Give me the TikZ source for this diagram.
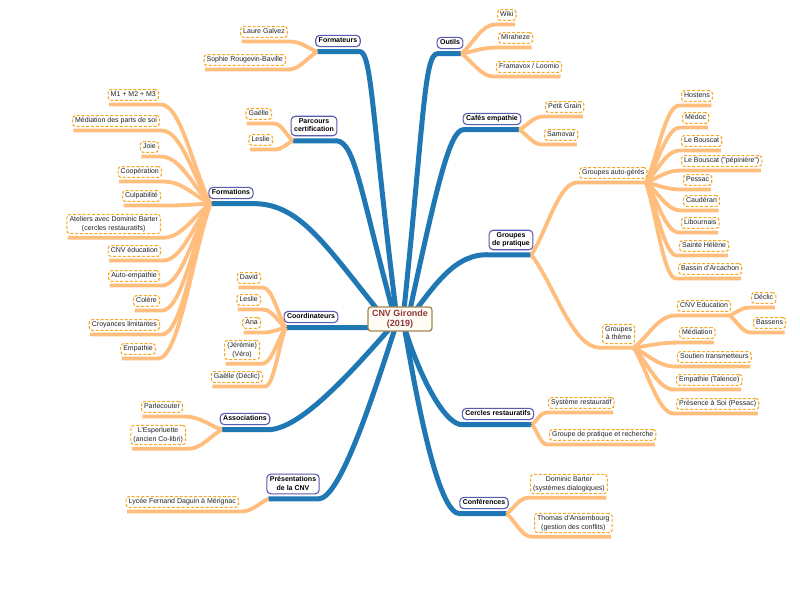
\documentclass[tikz,border=0pt]{standalone}
\usepackage{fontspec}
\setmainfont{Liberation Sans}
\usetikzlibrary{calc,backgrounds}
\definecolor{bluecol}{RGB}{31,119,180}
\definecolor{orcol}{RGB}{255,190,125}
\definecolor{dashcol}{RGB}{247,168,35}
\definecolor{brcol}{RGB}{90,90,175}
\definecolor{ctrbd}{RGB}{165,135,80}
\definecolor{ctrtx}{RGB}{140,55,55}
\definecolor{txtcol}{RGB}{35,35,35}
\newcommand\mystrutA{\rule[-1.5pt]{0pt}{6.6pt}}
\tikzset{
  leafbox/.style={draw=dashcol, line width=1.1pt, dash pattern=on 3pt off 1.8pt,
    rounded corners=3pt, fill=white, text=txtcol, font=\fontsize{7}{8.5}\selectfont,
    align=center, inner xsep=2.6pt, inner ysep=2.1pt,
    execute at begin node={\mystrutA}, execute at end node={\mystrutA}},
  brbox/.style={draw=brcol, line width=1.1pt, rounded corners=4pt, fill=white,
    text=black, font=\bfseries\fontsize{7}{8.5}\selectfont, align=center,
    inner xsep=3pt, inner ysep=2.3pt,
    execute at begin node={\mystrutA}, execute at end node={\mystrutA}},
  ctrbox/.style={draw=ctrbd, line width=1.3pt, rounded corners=3pt,
    fill={rgb,255:red,255;green,252;blue,246}, text=ctrtx,
    font=\bfseries\fontsize{9}{10.5}\selectfont, align=center,
    inner xsep=4pt, inner ysep=2.6pt},
  bline/.style={draw=bluecol, line width=5pt},
  oline/.style={draw=orcol, line width=3.8pt},
}
% leaf on the left side of its parent (anchored at its right edge)
\newcommand\mkleafL[4]{%
  \node[leafbox,anchor=east] (#1) at (#2,#3) {#4};
  \coordinate (#1-n) at ([xshift=2pt,yshift=-3.6pt]#1.south east);
  \coordinate (#1-f) at ([xshift=1.5pt,yshift=-3.6pt]#1.south west);}
% leaf on the right side of its parent (anchored at its left edge)
\newcommand\mkleafR[4]{%
  \node[leafbox,anchor=west] (#1) at (#2,#3) {#4};
  \coordinate (#1-n) at ([xshift=-2pt,yshift=-3.6pt]#1.south west);
  \coordinate (#1-f) at ([xshift=-1.5pt,yshift=-3.6pt]#1.south east);}
\newcommand\mkbrL[4]{%
  \node[brbox] (#1) at (#2,#3) {#4};
  \coordinate (#1-f) at ([xshift=2pt,yshift=-4.5pt]#1.south west);
  \coordinate (#1-n) at ([xshift=-1pt,yshift=-4.5pt]#1.south east);}
\newcommand\mkbrR[4]{%
  \node[brbox] (#1) at (#2,#3) {#4};
  \coordinate (#1-f) at ([xshift=-2pt,yshift=-4.5pt]#1.south east);
  \coordinate (#1-n) at ([xshift=1pt,yshift=-4.5pt]#1.south west);}
% orange link from a fork point to a leaf, then along the leaf's underline
\newcommand\olink[2]{%
  \draw[oline] let \p1=(#1), \p2=(#2-n) in
    (\p1) .. controls ({\x1+0.35*(\x2-\x1)},{\y1+0.35*(\y2-\y1)})
              and ({\x1+0.6*(\x2-\x1)},\y2) .. (\p2) -- (#2-f);}

\begin{document}
\begin{tikzpicture}[x=1pt,y=-1pt]
\useasboundingbox (0,0) rectangle (800,598);

% centre
\node[ctrbox] (c) at (400,319) {CNV Gironde\\(2019)};

% main branches
\mkbrL{fm}{338}{41}{Formateurs}
\mkbrL{pc}{314}{126}{Parcours\\certification}
\mkbrL{fo}{231}{193}{Formations}
\mkbrL{co}{311}{317}{Coordinateurs}
\mkbrL{asso}{245}{419}{Associations}
\mkbrL{pr}{293}{484}{Présentations\\de la CNV}
\mkbrR{ou}{450}{43}{Outils}
\mkbrR{ca}{492}{119}{Cafés empathie}
\mkbrR{gp}{511}{240}{Groupes\\de pratique}
\mkbrR{ce}{498}{414}{Cercles restauratifs}
\mkbrR{cf}{484}{503}{Conférences}

% left leaves
\mkleafL{lg}{288}{32}{Laure Galvez}
\mkleafL{sr}{286}{60}{Sophie Rougevin-Baville}
\mkleafL{ga}{272}{114}{Gaëlle}
\mkleafL{le}{273}{140}{Leslie}
\mkleafL{mone}{159}{95}{M1 + M2 + M3}
\mkleafL{md}{160}{121}{Médiation des parts de soi}
\mkleafL{jo}{159}{147}{Joie}
\mkleafL{cp}{162}{172}{Coopération}
\mkleafL{cu}{161}{196}{Culpabilité}
\mkleafL{atl}{161}{224}{Ateliers avec Dominic Barter\\(cercles restauratifs)}
\mkleafL{cnved}{161}{251}{CNV éducation}
\mkleafL{ae}{160}{276}{Auto-empathie}
\mkleafL{cl}{160}{301}{Colère}
\mkleafL{cr}{160}{325}{Croyances limitantes}
\mkleafL{em}{156}{349}{Empathie}
\mkleafL{da}{261}{278}{David}
\mkleafL{lestwo}{261}{300}{Leslie}
\mkleafL{an}{261}{323}{Ana}
\mkleafL{jv}{260}{350}{(Jérémie)\\(Véro)}
\mkleafL{gd}{263}{377}{Gaëlle (Déclic)}
\mkleafL{pa}{183}{407}{Parlecouter}
\mkleafL{es}{186}{435}{L'Esperluette\\(ancien Co-libri)}
\mkleafL{ly}{239}{502}{Lycée Fernand Daguin à Mérignac}

% right leaves
\mkleafR{wi}{497}{15}{Wiki}
\mkleafR{mi}{498}{38}{Miraheze}
\mkleafR{fr}{496}{67}{Framavox / Loomio}
\mkleafR{pg}{545}{107}{Petit Grain}
\mkleafR{sa}{544}{135}{Samovar}
\mkleafR{gag}{579}{173}{Groupes auto-gérés}
\mkleafR{ho}{681}{96}{Hostens}
\mkleafR{mdc}{682}{118}{Médoc}
\mkleafR{lb}{681}{141}{Le Bouscat}
\mkleafR{lbp}{681}{161}{Le Bouscat ("pépinière")}
\mkleafR{pes}{683}{180}{Pessac}
\mkleafR{cd}{683}{201}{Caudéran}
\mkleafR{li}{681}{223}{Libournais}
\mkleafR{sh}{679}{246}{Sainte Hélène}
\mkleafR{ba}{678}{269}{Bassin d'Arcachon}
\mkleafR{gat}{602}{334}{Groupes\\à thème}
\mkleafR{cne}{677}{306}{CNV Education}
\mkleafR{dcl}{751}{298}{Déclic}
\mkleafR{bs}{753}{323}{Bassens}
\mkleafR{mdt}{679}{333}{Médiation}
\mkleafR{st}{677}{357}{Soutien transmetteurs}
\mkleafR{et}{676}{380}{Empathie (Talence)}
\mkleafR{pso}{676}{404}{Présence à Soi (Pessac)}
\mkleafR{sy}{548}{403}{Système restauratif}
\mkleafR{gpr}{549}{435}{Groupe de pratique et recherche}
\mkleafR{db}{530}{484}{Dominic Barter\\(systèmes dialogiques)}
\mkleafR{ta}{534}{523}{Thomas d'Ansembourg\\(gestion des conflits)}

\begin{pgfonlayer}{background}
\fill[white] (0,0) rectangle (800,598);
% blue main connectors
\draw[bline] (fm-f) -- (fm-n) .. controls (372,52) and (372,120) .. ([xshift=-3pt]c.center);
\draw[bline] (pc-f) -- (pc-n) .. controls (355,142) and (360,190) .. ([xshift=-5pt]c.center);
\draw[bline] (fo-f) -- (fo-n) .. controls (300,203) and (325,245) .. ([xshift=-15pt]c.center);
\draw[bline] (co-f) -- (co-n) -- ([yshift=-8.5pt]c.center);
\draw[bline] (asso-f) -- (asso-n) .. controls (300,428) and (345,380) .. ([xshift=-2pt]c.center);
\draw[bline] (pr-f) -- (pr-n) .. controls (340,498) and (372,400) .. ([xshift=-2pt]c.center);
\draw[bline] (ou-f) -- (ou-n) .. controls (424,54) and (424,120) .. ([xshift=3pt]c.center);
\draw[bline] (ca-f) -- (ca-n) .. controls (450,130) and (438,180) .. ([xshift=8pt]c.center);
\draw[bline] (gp-f) -- (gp-n) .. controls (455,253) and (435,285) .. ([xshift=9pt]c.center);
\draw[bline] (ce-f) -- (ce-n) .. controls (445,426) and (418,375) .. ([xshift=2pt]c.center);
\draw[bline] (cf-f) -- (cf-n) .. controls (440,515) and (420,420) .. ([xshift=3pt]c.center);
% orange sub connectors
\olink{fm-f}{lg}\olink{fm-f}{sr}
\olink{pc-f}{ga}\olink{pc-f}{le}
\olink{fo-f}{mone}\olink{fo-f}{md}\olink{fo-f}{jo}\olink{fo-f}{cp}
\olink{fo-f}{cu}\olink{fo-f}{atl}\olink{fo-f}{cnved}\olink{fo-f}{ae}
\olink{fo-f}{cl}\olink{fo-f}{cr}\olink{fo-f}{em}
\olink{co-f}{da}\olink{co-f}{lestwo}\olink{co-f}{an}\olink{co-f}{jv}\olink{co-f}{gd}
\olink{asso-f}{pa}\olink{asso-f}{es}
\olink{pr-f}{ly}
\olink{ou-f}{wi}\olink{ou-f}{mi}\olink{ou-f}{fr}
\olink{ca-f}{pg}\olink{ca-f}{sa}
\olink{gp-f}{gag}\olink{gp-f}{gat}
\olink{gag-f}{ho}\olink{gag-f}{mdc}\olink{gag-f}{lb}\olink{gag-f}{lbp}\olink{gag-f}{pes}
\olink{gag-f}{cd}\olink{gag-f}{li}\olink{gag-f}{sh}\olink{gag-f}{ba}
\olink{gat-f}{cne}\olink{gat-f}{mdt}\olink{gat-f}{st}\olink{gat-f}{et}\olink{gat-f}{pso}
\olink{cne-f}{dcl}\olink{cne-f}{bs}
\olink{ce-f}{sy}\olink{ce-f}{gpr}
\olink{cf-f}{db}\olink{cf-f}{ta}
\end{pgfonlayer}
\end{tikzpicture}
\end{document}
